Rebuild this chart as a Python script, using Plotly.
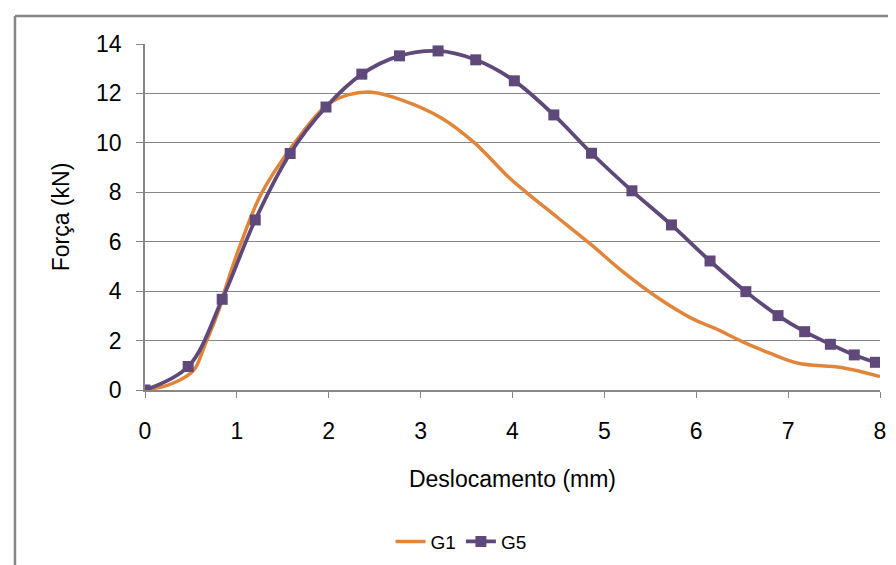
import plotly.graph_objects as go

# G1 curve
g1_x = [0, 0.25, 0.47, 0.55, 0.65, 0.80, 0.90, 1.05, 1.26, 1.59, 1.97, 2.21, 2.47, 2.79,
        3.23, 3.59, 3.95, 4.14, 4.50, 4.86, 5.20, 5.59, 5.95, 6.20, 6.50, 6.80, 7.11, 7.58, 8.0]
g1_y = [0, 0.2, 0.6, 0.9, 1.8, 3.2, 4.4, 6.0, 7.9, 9.8, 11.5, 11.94, 12.05, 11.74,
        11.0, 9.99, 8.64, 8.03, 6.95, 5.87, 4.79, 3.71, 2.90, 2.50, 1.96, 1.49, 1.08, 0.91, 0.54]

# G5 curve with markers
g5_x = [0, 0.47, 0.84, 1.20, 1.58, 1.97, 2.36, 2.77, 3.19, 3.60, 4.02, 4.45, 4.86,
        5.30, 5.73, 6.15, 6.54, 6.89, 7.18, 7.46, 7.72, 7.95]
g5_y = [0, 0.95, 3.67, 6.88, 9.57, 11.45, 12.78, 13.52, 13.72, 13.36, 12.51, 11.13, 9.58,
        8.06, 6.68, 5.22, 3.98, 3.01, 2.36, 1.85, 1.42, 1.12]

x_ticks = [0, 1, 2, 3, 4, 5, 6, 7, 8]
y_ticks = [0, 2, 4, 6, 8, 10, 12, 14]

FONT = "Liberation Sans, Arial, sans-serif"
GRID = "#868686"

fig = go.Figure()

fig.add_trace(go.Scatter(
    x=g1_x, y=g1_y,
    mode='lines',
    name="G1",
    line=dict(color="#E0853A", width=3.5, shape='spline', smoothing=1),
))

fig.add_trace(go.Scatter(
    x=g5_x, y=g5_y,
    mode='lines+markers',
    name="G5",
    line=dict(color="#5F497A", width=3.8, shape='spline', smoothing=1),
    marker=dict(symbol='square', size=11, color="#5F497A"),
))

fig.update_layout(
    width=896,
    height=565,
    margin=dict(l=137, r=24, t=36, b=183),
    paper_bgcolor="white",
    plot_bgcolor="white",
    font=dict(family=FONT, size=23, color="black"),
    showlegend=True,
    legend=dict(
        orientation='h',
        x=0.43, y=-0.438,
        xanchor='center', yanchor='middle',
        font=dict(size=19),
        bgcolor='rgba(0,0,0,0)',
    ),
)

fig.update_xaxes(
    range=[0, 8],
    tickvals=x_ticks,
    showgrid=False,
    zeroline=False,
    showline=True, linecolor=GRID, linewidth=1.5,
    ticks='outside', ticklen=6, tickcolor=GRID, tickwidth=1,
    ticklabelstandoff=14,
    title=dict(text="Deslocamento (mm)", standoff=28, font=dict(size=23)),
)

fig.update_yaxes(
    range=[0, 14],
    tickvals=y_ticks,
    showgrid=True, gridcolor=GRID, gridwidth=1.2,
    zeroline=False,
    showline=True, linecolor=GRID, linewidth=1.5,
    ticks='outside', ticklen=7, tickcolor=GRID, tickwidth=1,
    ticklabelstandoff=10,
    title=dict(text="Força (kN)", standoff=20, font=dict(size=23)),
)

# outer chart frame (left and top edges visible in the original)
fig.add_shape(type='line', xref='paper', yref='paper',
              x0=-0.1769, x1=-0.1769, y0=1.081, y1=-0.55,
              line=dict(color=GRID, width=2.5))
fig.add_shape(type='line', xref='paper', yref='paper',
              x0=-0.1769, x1=1.04, y0=1.081, y1=1.081,
              line=dict(color=GRID, width=2.5))

fig.write_html("out.html")
